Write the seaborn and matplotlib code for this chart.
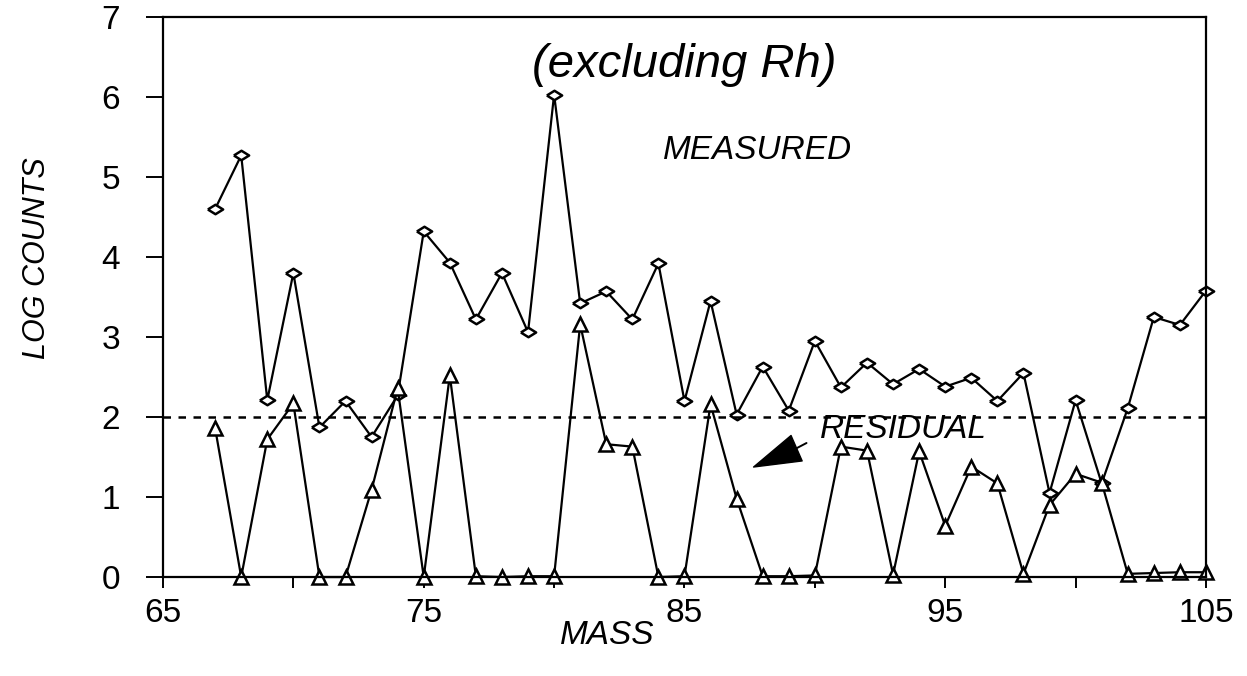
import numpy as np
import pandas as pd
import matplotlib
matplotlib.use("Agg")
import matplotlib.pyplot as plt
import seaborn as sns

# Isotope masses and log counts for the two spectra
mass = list(range(67, 106))
measured = [4.60, 5.27, 2.21, 3.80, 1.87, 2.20, 1.75, 2.27, 4.32, 3.93,
            3.22, 3.80, 3.06, 6.03, 3.42, 3.57, 3.22, 3.92, 2.20, 3.45,
            2.03, 2.63, 2.08, 2.95, 2.37, 2.68, 2.41, 2.60, 2.38, 2.49,
            2.20, 2.55, 1.05, 2.21, 1.17, 2.11, 3.25, 3.15, 3.58]
residual = [1.86, 0.00, 1.72, 2.17, 0.00, 0.00, 1.09, 2.36, 0.00, 2.52,
            0.01, 0.00, 0.01, 0.01, 3.16, 1.66, 1.63, 0.00, 0.01, 2.16,
            0.98, 0.01, 0.01, 0.02, 1.63, 1.58, 0.03, 1.57, 0.64, 1.38,
            1.17, 0.04, 0.90, 1.29, 1.18, 0.04, 0.05, 0.06, 0.06]
threshold = 2.0
x_ticks = [65, 75, 85, 95, 105]
x_minor = [70, 80, 90, 100]
y_ticks = [0, 1, 2, 3, 4, 5, 6, 7]

sns.set_style("ticks")
plt.rcParams["font.family"] = ["Liberation Sans", "DejaVu Sans"]
plt.rcParams.update({"text.color": "black", "axes.labelcolor": "black",
                     "xtick.color": "black", "ytick.color": "black",
                     "axes.edgecolor": "black"})

df = pd.DataFrame({"mass": mass, "measured": measured, "residual": residual})

fig = plt.figure(figsize=(12.47, 6.76), dpi=100)
ax = fig.add_axes([0.1307, 0.1464, 0.8364, 0.8285])

# flattened diamond marker
diamond = [(-1.0, 0.0), (0.0, 0.62), (1.0, 0.0), (0.0, -0.62), (-1.0, 0.0)]

common = dict(color="black", linewidth=1.6, markersize=11,
              markerfacecolor="white", markeredgecolor="black",
              markeredgewidth=1.8, clip_on=False, legend=False, ax=ax)
sns.lineplot(data=df, x="mass", y="measured", marker=diamond, **common)
common["markersize"] = 9.5
sns.lineplot(data=df, x="mass", y="residual", marker="^", **common)

ax.axhline(threshold, color="black", linewidth=1.8, linestyle=(0, (3, 3)))

ax.set_xlim(65, 105)
ax.set_ylim(0, 7)
ax.set_xticks(x_ticks)
ax.set_xticks(x_minor, minor=True)
ax.set_yticks(y_ticks)
ax.tick_params(axis="x", which="major", direction="out", length=8, width=1.4,
               pad=7, labelsize=24)
ax.tick_params(axis="x", which="minor", direction="out", length=8, width=1.4)
ax.tick_params(axis="y", direction="out", length=12, width=1.4, pad=19,
               labelsize=24)
for s in ax.spines.values():
    s.set_linewidth(1.6)

ax.set_xlabel("MASS", fontsize=24, style="italic")
ax.set_ylabel("LOG COUNTS", fontsize=22, style="italic")
ax.xaxis.set_label_coords(0.426, -0.076)
ax.yaxis.set_label_coords(-0.106, 0.57)

ax.text(85.0, 6.25, "(excluding Rh)", fontsize=34, style="italic",
        ha="center", va="baseline")
ax.text(87.8, 5.33, "MEASURED", fontsize=24, style="italic",
        ha="center", va="center")
ax.text(93.4, 1.84, "RESIDUAL", fontsize=24, style="italic",
        ha="center", va="center")

# pointer wedge beneath the RESIDUAL label
ax.annotate("", xy=(87.65, 1.375), xytext=(89.3, 1.61),
            arrowprops=dict(arrowstyle="wedge,tail_width=1.0,shrink_factor=0.5",
                            color="black", shrinkA=0, shrinkB=0,
                            mutation_scale=20))
ax.annotate("", xy=(89.3, 1.61), xytext=(89.68, 1.675),
            arrowprops=dict(arrowstyle="-", color="black", lw=1.4,
                            shrinkA=0, shrinkB=0))

fig.savefig("out.png", dpi=100, facecolor="white")
